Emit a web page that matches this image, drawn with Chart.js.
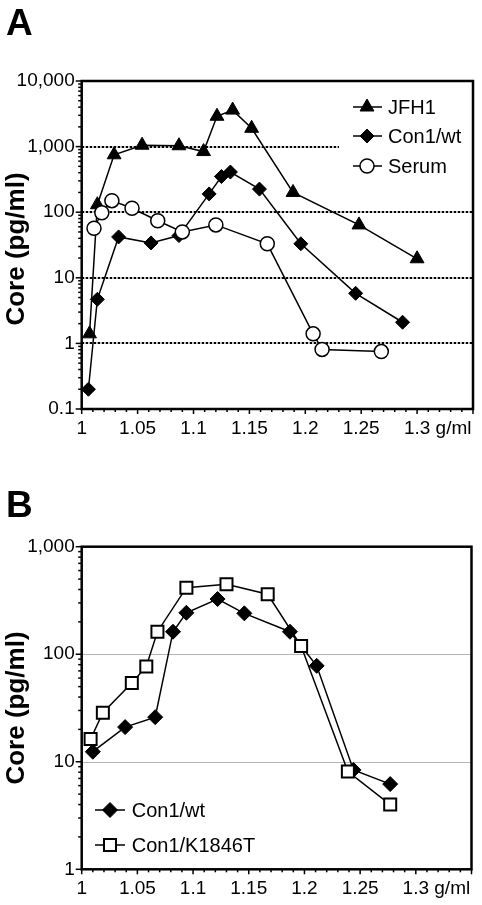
<!DOCTYPE html>
<html>
<head>
<meta charset="utf-8">
<script src="https://cdn.jsdelivr.net/npm/chart.js@4/dist/chart.umd.min.js"></script>
<style>
html,body{margin:0;padding:0;background:#fff;}
#wrapA{position:absolute;left:0;top:0;width:482px;height:450px;}
#wrapB{position:absolute;left:0;top:450px;width:482px;height:455px;}
canvas{display:block;}
</style>
</head>
<body>
<div id="wrapA"><canvas id="chartA" width="482" height="450"></canvas></div>
<div id="wrapB"><canvas id="chartB" width="482" height="455"></canvas></div>
<script>
// ---------- Panel A data ----------
const jfh1Density  = [1.007, 1.014, 1.029, 1.054, 1.087, 1.109, 1.121, 1.135, 1.152, 1.189, 1.248, 1.300];
const jfh1Core     = [1.4, 130, 750, 1050, 1030, 840, 2900, 3600, 1900, 200, 64, 19.5];
const con1Density  = [1.006, 1.014, 1.033, 1.062, 1.087, 1.114, 1.125, 1.133, 1.159, 1.196, 1.245, 1.287];
const con1Core     = [0.2, 4.7, 42, 34, 44, 190, 350, 410, 225, 33, 5.8, 2.1];
const serumDensity = [1.011, 1.018, 1.027, 1.045, 1.068, 1.090, 1.120, 1.166, 1.207, 1.215, 1.268];
const serumCore    = [57, 98, 150, 115, 74, 50, 64, 33, 1.4, 0.81, 0.75];

// ---------- Panel B data ----------
const bWtDensity  = [1.010, 1.039, 1.066, 1.082, 1.094, 1.122, 1.146, 1.187, 1.211, 1.244, 1.277];
const bWtCore     = [12.4, 21, 26, 162, 243, 326, 240, 162, 78, 8.4, 6.2];
const bMutDensity = [1.008, 1.019, 1.045, 1.058, 1.068, 1.094, 1.130, 1.167, 1.197, 1.239, 1.277];
const bMutCore    = [16.3, 28.6, 54, 77, 162, 416, 447, 361, 119, 8.1, 4.0];

// ---------- Ticks ----------
const xTickValues = [1, 1.05, 1.1, 1.15, 1.2, 1.25, 1.3];
const xTickLabels = ['1', '1.05', '1.1', '1.15', '1.2', '1.25', '1.3'];
const xUnit = 'g/ml';
const yTickValuesA = [0.1, 1, 10, 100, 1000, 10000];
const yTickLabelsA = ['0.1', '1', '10', '100', '1,000', '10,000'];
const yTickValuesB = [1, 10, 100, 1000];
const yTickLabelsB = ['1', '10', '100', '1,000'];
const yTitle = 'Core (pg/ml)';

Chart.defaults.font.family = "'Liberation Sans', Arial, sans-serif";
Chart.defaults.color = '#000';

const FONT = "'Liberation Sans', Arial, sans-serif";
const TICK_FONT = 19;

function marker(ctx, style, x, y, r, fill, bw) {
  ctx.save();
  ctx.beginPath();
  if (style === 'triangle') {
    ctx.moveTo(x, y - r);
    ctx.lineTo(x + 0.866 * r, y + 0.5 * r);
    ctx.lineTo(x - 0.866 * r, y + 0.5 * r);
    ctx.closePath();
  } else if (style === 'rectRot') {
    ctx.moveTo(x - r, y); ctx.lineTo(x, y - r); ctx.lineTo(x + r, y); ctx.lineTo(x, y + r);
    ctx.closePath();
  } else if (style === 'rect') {
    const s = Math.SQRT1_2 * r;
    ctx.rect(x - s, y - s, 2 * s, 2 * s);
  } else {
    ctx.arc(x, y, r, 0, Math.PI * 2);
  }
  ctx.fillStyle = fill;
  ctx.fill();
  ctx.lineWidth = bw;
  ctx.strokeStyle = '#000';
  ctx.stroke();
  ctx.restore();
}

function ds(label, xs, ys, style, r, fill, bw, order) {
  return {
    label,
    data: xs.map((x, i) => ({ x, y: ys[i] })),
    borderColor: '#000',
    borderWidth: 1.5,
    tension: 0,
    pointStyle: style,
    pointRadius: r,
    pointBackgroundColor: fill,
    pointBorderColor: '#000',
    pointBorderWidth: bw,
    order
  };
}

function decor(cfg) {
  return {
    id: 'decor' + cfg.letter,
    beforeDatasetsDraw(chart) {
      const { ctx, chartArea: a, scales: { y } } = chart;
      ctx.save();
      ctx.lineWidth = cfg.gridWidth;
      ctx.strokeStyle = cfg.gridColor;
      ctx.setLineDash(cfg.gridDash);
      cfg.gridValues.forEach(v => {
        const py = Math.round(y.getPixelForValue(v)) + (cfg.gridWidth % 2 ? 0.5 : 0);
        ctx.beginPath();
        ctx.moveTo(a.left, py);
        ctx.lineTo(a.right, py);
        ctx.stroke();
      });
      ctx.restore();
    },
    afterDatasetsDraw(chart) {
      const { ctx, chartArea: a, scales: { x, y } } = chart;
      ctx.save();
      // legend
      const L = cfg.legend;
      if (L.box) {
        ctx.fillStyle = '#fff';
        ctx.fillRect(L.box[0], L.box[1], L.box[2], L.box[3]);
      }
      L.items.forEach((it, i) => {
        const ry = L.rows[i];
        ctx.beginPath();
        ctx.lineWidth = 1.5;
        ctx.strokeStyle = '#000';
        ctx.moveTo(L.x1, ry); ctx.lineTo(L.x2, ry); ctx.stroke();
        marker(ctx, it.style, L.mx, ry, it.r, it.fill, it.bw);
        ctx.fillStyle = '#000';
        ctx.font = L.font + 'px ' + FONT;
        ctx.textAlign = 'left';
        ctx.textBaseline = 'middle';
        ctx.fillText(it.label, L.tx, ry + 1);
      });
      // frame
      ctx.lineWidth = 2.5;
      ctx.strokeStyle = '#000';
      ctx.setLineDash([]);
      ctx.strokeRect(a.left, a.top, a.right - a.left, a.bottom - a.top);
      // x tick marks
      ctx.lineWidth = 1.5;
      for (let k = 100; k <= 135; k++) {
        const px = x.getPixelForValue(k / 100);
        const len = (k % 5 === 0) ? 5 : 3;
        ctx.beginPath();
        ctx.moveTo(px, a.bottom);
        ctx.lineTo(px, a.bottom + len);
        ctx.stroke();
      }
      // y tick marks
      for (let e = cfg.yExpMin; e < cfg.yExpMax; e++) {
        for (let m = 1; m <= 9; m++) {
          const v = m * Math.pow(10, e);
          const py = y.getPixelForValue(v);
          const len = (m === 1) ? 6 : 3.5;
          ctx.beginPath();
          ctx.moveTo(a.left, py);
          ctx.lineTo(a.left - len, py);
          ctx.stroke();
        }
      }
      const ptop = y.getPixelForValue(Math.pow(10, cfg.yExpMax));
      ctx.beginPath(); ctx.moveTo(a.left, ptop); ctx.lineTo(a.left - 6, ptop); ctx.stroke();
      // unit after last x label
      const px13 = x.getPixelForValue(1.3);
      ctx.font = TICK_FONT + 'px ' + FONT;
      const w13 = ctx.measureText('1.3').width;
      const wsp = ctx.measureText(' ').width;
      let ty = a.bottom + 8 + 11, tb = 'middle';
      try {
        const items = x.getLabelItems ? x.getLabelItems() : x._labelItems;
        const it = items && items[items.length - 1];
        if (it && it.options && it.options.translation) {
          ty = it.options.translation[1] + (it.textOffset || 0);
          tb = it.options.textBaseline || 'middle';
        }
      } catch (e) {}
      ctx.fillStyle = '#000';
      ctx.textAlign = 'left';
      ctx.textBaseline = tb;
      ctx.fillText(xUnit, px13 + w13 / 2 + wsp, ty);
      // y title
      ctx.save();
      ctx.translate(cfg.titleX, (a.top + a.bottom) / 2 + cfg.titleDy);
      ctx.rotate(-Math.PI / 2);
      ctx.font = 'bold 26px ' + FONT;
      ctx.textAlign = 'center';
      ctx.textBaseline = 'middle';
      ctx.fillText(yTitle, 0, 0);
      ctx.restore();
      // panel letter
      ctx.font = 'bold 37px ' + FONT;
      ctx.textAlign = 'left';
      ctx.textBaseline = 'alphabetic';
      ctx.fillText(cfg.letter, 6, cfg.letterY);
      ctx.restore();
    }
  };
}

function makeScales(yMin, yMax, yVals, yLabs, xHeight) {
  return {
    x: {
      type: 'linear', min: 1, max: 1.35,
      afterBuildTicks: s => { s.ticks = xTickValues.map(v => ({ value: v })); },
      afterFit: s => { s.height = xHeight; },
      grid: { display: false, drawTicks: false },
      border: { display: false },
      ticks: {
        maxRotation: 0, minRotation: 0, autoSkip: false, padding: 8,
        color: '#000', font: { size: TICK_FONT },
        callback: (v, i) => xTickLabels[i]
      }
    },
    y: {
      type: 'logarithmic', min: yMin, max: yMax,
      afterBuildTicks: s => { s.ticks = yVals.map(v => ({ value: v, major: true })); },
      afterFit: s => { s.width = 81.7; },
      grid: { display: false, drawTicks: false },
      border: { display: false },
      ticks: {
        autoSkip: false, padding: 7, color: '#000', font: { size: TICK_FONT },
        callback: (v, i) => yLabs[i]
      }
    }
  };
}

const common = {
  responsive: false,
  animation: false,
  devicePixelRatio: 1,
  plugins: { legend: { display: false }, tooltip: { enabled: false } },
  events: []
};

new Chart(document.getElementById('chartA'), {
  type: 'line',
  data: {
    datasets: [
      ds('Serum', serumDensity, serumCore, 'circle', 7, '#fff', 1.5, 0),
      ds('Con1/wt', con1Density, con1Core, 'rectRot', 7, '#000', 1, 1),
      ds('JFH1', jfh1Density, jfh1Core, 'triangle', 8, '#000', 1, 2)
    ]
  },
  options: Object.assign({}, common, {
    layout: { padding: { left: 0, top: 81, right: 7, bottom: 0 } },
    scales: makeScales(0.1, 10000, yTickValuesA, yTickLabelsA, 41)
  }),
  plugins: [decor({
    letter: 'A', letterY: 35,
    gridValues: [1, 10, 100, 1000], gridWidth: 2, gridColor: '#000', gridDash: [2.5, 1.5],
    yExpMin: -1, yExpMax: 4, titleX: 17, titleDy: 4,
    legend: {
      box: [339, 90, 134, 94],
      x1: 353, x2: 382, mx: 367, tx: 388, font: 20,
      rows: [107, 136, 166],
      items: [
        { label: 'JFH1', style: 'triangle', r: 8, fill: '#000', bw: 1 },
        { label: 'Con1/wt', style: 'rectRot', r: 7, fill: '#000', bw: 1 },
        { label: 'Serum', style: 'circle', r: 7, fill: '#fff', bw: 1.5 }
      ]
    }
  })]
});

new Chart(document.getElementById('chartB'), {
  type: 'line',
  data: {
    datasets: [
      ds('Con1/K1846T', bMutDensity, bMutCore, 'rect', 8.5, '#fff', 2, 0),
      ds('Con1/wt', bWtDensity, bWtCore, 'rectRot', 7.5, '#000', 1, 1)
    ]
  },
  options: Object.assign({}, common, {
    layout: { padding: { left: 0, top: 96.7, right: 7, bottom: 0 } },
    scales: makeScales(1, 1000, yTickValuesB, yTickLabelsB, 35.7)
  }),
  plugins: [decor({
    letter: 'B', letterY: 67,
    gridValues: [10, 100], gridWidth: 1, gridColor: '#b4b4b4', gridDash: [],
    yExpMin: 0, yExpMax: 3, titleX: 17, titleDy: 0,
    legend: {
      box: null,
      x1: 95, x2: 125, mx: 110, tx: 131.7, font: 20,
      rows: [360, 395],
      items: [
        { label: 'Con1/wt', style: 'rectRot', r: 7.5, fill: '#000', bw: 1 },
        { label: 'Con1/K1846T', style: 'rect', r: 8.5, fill: '#fff', bw: 2 }
      ]
    }
  })]
});
</script>
</body>
</html>
